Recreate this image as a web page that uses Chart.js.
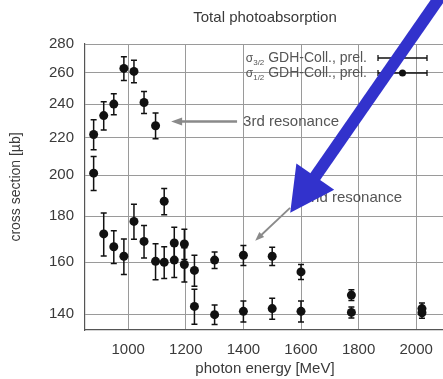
<!DOCTYPE html>
<html><head><meta charset="utf-8">
<script src="https://cdn.jsdelivr.net/npm/chart.js@4/dist/chart.umd.min.js"></script>
<style>
html,body{margin:0;padding:0;overflow:hidden;background:#fff;width:443px;height:379px}
canvas{display:block}
</style>
</head><body>
<canvas id="c" width="455" height="379"></canvas>
<script>
// ---- data ----
const energies   = [880, 915, 950, 985, 1020, 1055, 1095, 1125, 1160, 1195, 1230, 1300, 1400, 1500, 1600, 1775, 2020];
const sigma32    = [222, 233, 240, 263, 261, 241, 227, 187, 168, 167.6, 156.6, 160.8, 162.8, 162.4, 156, 147, 142];
const sigma32Err = [8.5, 8.5, 6.5, 8, 7.5, 6.8, 7.5, 6.3, 6.9, 6.5, 6.2, 3.4, 4.2, 3.8, 3, 2, 2];
const sigma12    = [201, 172, 166.4, 162.4, 177.6, 168.7, 160.3, 159.9, 160.8, 159, 142.8, 139.8, 141, 142, 141, 140.6, 140.5];
const sigma12Err = [8.8, 9.5, 7, 7.4, 8, 7, 7.4, 6.5, 7, 7, 6.4, 3.5, 3.8, 3.8, 3.8, 2, 2];
const xTicks = [1000, 1200, 1400, 1600, 1800, 2000];
const yTicks = [140, 160, 180, 200, 220, 240, 260, 280];
const seriesNames = ['3/2', '1/2'];
const seriesLabel = ' GDH-Coll., prel.';
// annotations in data units [energy, cross section]
const thirdArrow  = [[1378, 229.5], [1149, 229.5]];
const thirdText   = [1399, 229.3];
const secondArrow = [[1562, 183.9], [1441, 169]];
const secondText  = [1606, 188.8];
const blueArrow   = [[2083, 316], [1562.5, 181.6]];

const FONT = "'Liberation Sans', Arial, Helvetica, sans-serif";
const TXT = '#3a3a3a';

function toPts(ys){ return energies.map((x,i)=>({x:x, y:ys[i]})); }

function arrow(ctx, x1, y1, x2, y2, lw, headLen, headHalf, color){
  const dx = x2-x1, dy = y2-y1, L = Math.hypot(dx,dy);
  const ux = dx/L, uy = dy/L, px = -uy, py = ux;
  const bx = x2 - ux*headLen, by = y2 - uy*headLen;
  ctx.save();
  ctx.strokeStyle = color; ctx.fillStyle = color; ctx.lineWidth = lw; ctx.lineCap = 'butt';
  ctx.beginPath(); ctx.moveTo(x1,y1); ctx.lineTo(bx+ux*1,by+uy*1); ctx.stroke();
  ctx.beginPath();
  ctx.moveTo(x2,y2);
  ctx.lineTo(bx+px*headHalf, by+py*headHalf);
  ctx.lineTo(bx-px*headHalf, by-py*headHalf);
  ctx.closePath(); ctx.fill();
  ctx.restore();
}

const errorBars = {
  id: 'errorBars',
  afterDatasetsDraw(chart){
    const ctx = chart.ctx, ys = chart.scales.y;
    const errs = [sigma32Err, sigma12Err];
    const vals = [sigma32, sigma12];
    ctx.save();
    ctx.strokeStyle = '#111'; ctx.lineWidth = 1.5;
    chart.data.datasets.forEach((ds, di) => {
      const meta = chart.getDatasetMeta(di);
      meta.data.forEach((pt, j) => {
        const t = ys.getPixelForValue(vals[di][j] + errs[di][j]);
        const b = ys.getPixelForValue(vals[di][j] - errs[di][j]);
        ctx.beginPath();
        ctx.moveTo(pt.x, t); ctx.lineTo(pt.x, b);
        ctx.moveTo(pt.x-3, t); ctx.lineTo(pt.x+3, t);
        ctx.moveTo(pt.x-3, b); ctx.lineTo(pt.x+3, b);
        ctx.stroke();
      });
    });
    ctx.restore();
  }
};

const overlay = {
  id: 'overlay',
  afterDraw(chart){
    const ctx = chart.ctx, xs = chart.scales.x, ys = chart.scales.y, ca = chart.chartArea;
    const P = p => [xs.getPixelForValue(p[0]), ys.getPixelForValue(p[1])];
    // legend
    ctx.save();
    const rows = [ca.top + 14, ca.top + 29];
    seriesNames.forEach((nm, i) => {
      const y = rows[i];
      ctx.font = '14px ' + FONT;
      const wMain = ctx.measureText(seriesLabel).width;
      ctx.font = '12px ' + FONT;
      const wSig = ctx.measureText('σ').width;
      ctx.font = '8px ' + FONT;
      const wSub = ctx.measureText(nm).width;
      const right = ca.right - 78;
      let x = right - wMain - wSub - wSig;
      ctx.fillStyle = '#555'; ctx.textBaseline = 'middle'; ctx.textAlign = 'left';
      ctx.font = '12px ' + FONT; ctx.fillText('σ', x, y + 1); x += wSig;
      ctx.font = '8px ' + FONT; ctx.fillText(nm, x, y + 5); x += wSub;
      ctx.font = '14px ' + FONT; ctx.fillText(seriesLabel, x, y);
      // sample
      const l = ca.right - 67, r = ca.right - 18;
      ctx.strokeStyle = '#111'; ctx.lineWidth = 1.3;
      ctx.beginPath();
      ctx.moveTo(l, y); ctx.lineTo(r, y);
      ctx.moveTo(l, y-3); ctx.lineTo(l, y+3);
      ctx.moveTo(r, y-3); ctx.lineTo(r, y+3);
      ctx.stroke();
      if (i === 1) {
        ctx.fillStyle = '#111';
        ctx.beginPath(); ctx.arc((l+r)/2, y, 3.5, 0, Math.PI*2); ctx.fill();
      }
    });
    // resonance annotations
    let a = P(thirdArrow[0]), b = P(thirdArrow[1]);
    arrow(ctx, a[0], a[1], b[0], b[1], 2.5, 11, 4, '#8a8a8a');
    let t = P(thirdText);
    ctx.font = '15px ' + FONT; ctx.fillStyle = '#555'; ctx.textAlign = 'left'; ctx.textBaseline = 'middle';
    ctx.fillText('3rd resonance', t[0], t[1]);
    a = P(secondArrow[0]); b = P(secondArrow[1]);
    arrow(ctx, a[0], a[1], b[0], b[1], 1.8, 9, 3.5, '#8a8a8a');
    t = P(secondText);
    ctx.fillText('2nd resonance', t[0], t[1]);
    // blue pointer arrow
    a = P(blueArrow[0]); b = P(blueArrow[1]);
    arrow(ctx, a[0], a[1], b[0], b[1], 12, 44, 23, '#3232cc');
    ctx.restore();
  }
};

new Chart(document.getElementById('c'), {
  type: 'scatter',
  data: {
    datasets: [
      { label: 'sigma 3/2', data: toPts(sigma32), pointRadius: 4.5, pointHoverRadius: 4.5,
        backgroundColor: '#111', borderColor: '#111', borderWidth: 0, showLine: false },
      { label: 'sigma 1/2', data: toPts(sigma12), pointRadius: 4.5, pointHoverRadius: 4.5,
        backgroundColor: '#111', borderColor: '#111', borderWidth: 0, showLine: false }
    ]
  },
  options: {
    responsive: false,
    animation: false,
    events: [],
    layout: { padding: { left: 0, right: 10, top: 0, bottom: 0 } },
    plugins: {
      legend: { display: false },
      tooltip: { enabled: false },
      title: {
        display: true, text: 'Total photoabsorption', fullSize: false,
        color: TXT, font: { family: FONT, size: 15, weight: 'normal' },
        padding: { top: 9, bottom: 17 }
      }
    },
    scales: {
      x: {
        type: 'linear', min: 850, max: 2100,
        afterBuildTicks: s => { s.ticks = xTicks.map(v => ({ value: v })); },
        afterFit: s => { s.height = 49; },
        ticks: { color: TXT, font: { family: FONT, size: 15 }, padding: 11, autoSkip: false, maxRotation: 0,
                 callback: v => String(v) },
        grid: { color: '#9a9a9a', lineWidth: 1, drawTicks: false },
        border: { color: '#555', width: 1.2 },
        title: { display: true, text: 'photon energy [MeV]', color: TXT,
                 font: { family: FONT, size: 15 }, padding: { top: 0, bottom: 1 } }
      },
      y: {
        type: 'logarithmic', min: 134.4, max: 280,
        afterBuildTicks: s => { s.ticks = yTicks.map(v => ({ value: v })); },
        afterFit: s => { s.width = 85; },
        ticks: { color: TXT, font: { family: FONT, size: 15 }, padding: 11, autoSkip: false,
                 callback: v => String(v) },
        grid: { color: '#9a9a9a', lineWidth: 1, drawTicks: false },
        border: { color: '#555', width: 1.2 },
        title: { display: true, text: 'cross section [µb]', color: TXT,
                 font: { family: FONT, size: 14 }, padding: { top: 8, bottom: 0 } }
      }
    }
  },
  plugins: [errorBars, overlay]
});
</script>
</body></html>
